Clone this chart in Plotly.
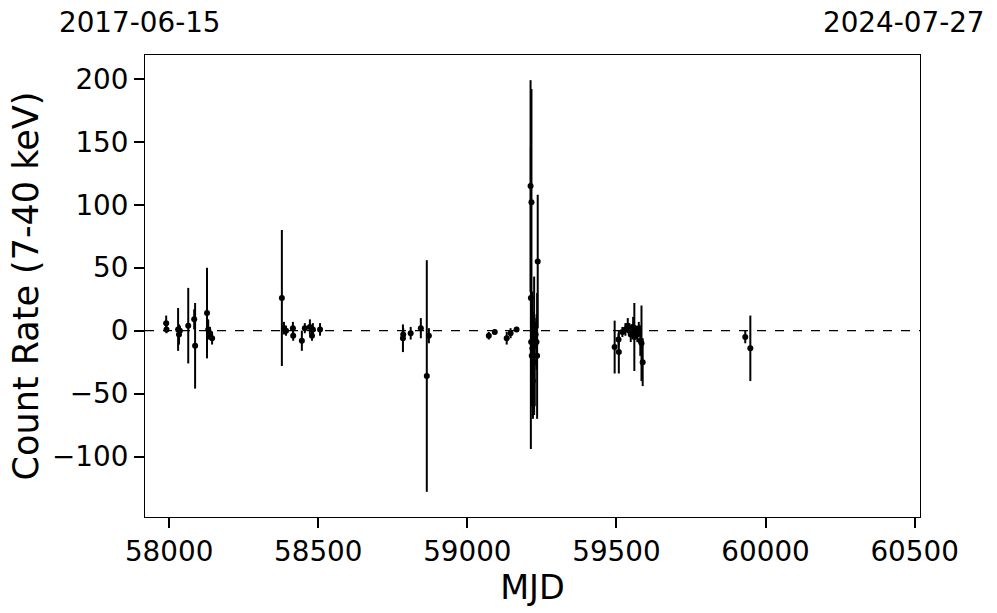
import plotly.graph_objects as go

# MJD, count rate (7-40 keV), 1-sigma error
mjd = [57990, 57991, 58030, 58033, 58036, 58064, 58084, 58087, 58127, 58131, 58137, 58144,
       58378, 58385, 58392, 58415, 58416, 58445, 58455, 58472, 58479, 58482, 58506,
       58784, 58785, 58810, 58844, 58864, 58871,
       59072, 59092, 59132, 59145, 59165,
       59212, 59215, 59213, 59214, 59216, 59218, 59220, 59222, 59224, 59226, 59229, 59232, 59234, 59236,
       59494, 59507, 59508, 59520, 59530, 59538, 59543, 59548, 59552, 59556, 59560, 59565, 59570,
       59575, 59580, 59584, 59588,
       59932, 59949]
rate = [6, 1, 1, -3, 0, 4, 9, -12, 14, 1, -2, -6,
        26, 2, 0, 2, -4, -8, 2, 3, -4, 1, 1,
        -6, -3, -2, 2, -36, -4,
        -4, -1, -6, -2, 1,
        115, 102, 26, -9, -20, -14, -40, -5, -12, -25, -3, -9, -20, 55,
        -13, -7, -17, -1, 1, 4, 2, -3, 0, 3, -5, 0, -3,
        2, -8, -10, -25,
        -5, -14]
err = [6, 3, 17, 8, 4, 30, 8, 34, 36, 8, 5, 5,
       54, 5, 4, 5, 4, 8, 4, 6, 4, 5, 5,
       11, 5, 5, 8, 92, 6,
       3, 2, 5, 4, 2,
       84, 90, 120, 30, 40, 45, 30, 20, 55, 35, 10, 22, 50, 53,
       21, 5, 17, 4, 5, 6, 4, 6, 5, 8, 27, 4, 6,
       5, 12, 30, 19,
       5, 26]

x_range = [57919, 60518]
y_range = [-148, 219]
x_ticks = [58000, 58500, 59000, 59500, 60000, 60500]
x_tick_text = ["58000", "58500", "59000", "59500", "60000", "60500"]
y_ticks = [-100, -50, 0, 50, 100, 150, 200]
y_tick_text = ["\u2212100", "\u221250", "0", "50", "100", "150", "200"]
start_label = "2017-06-15"
end_label = "2024-07-27"

FONT = "DejaVu Sans"

fig = go.Figure()
fig.add_trace(go.Scatter(
    x=mjd, y=rate, mode="markers",
    marker=dict(color="black", size=6),
    error_y=dict(type="data", array=err, visible=True, color="black", thickness=2, width=0),
    showlegend=False,
))
fig.add_shape(type="line", xref="paper", x0=0, x1=1, yref="y", y0=0, y1=0,
              line=dict(color="black", width=1.3, dash="dash"))

fig.update_xaxes(range=x_range, tickvals=x_ticks, ticktext=x_tick_text, ticks="outside", ticklen=10, tickwidth=2,
                 tickcolor="black", showline=True, linecolor="black", linewidth=1, mirror=True,
                 showgrid=False, zeroline=False, automargin=False,
                 tickfont=dict(size=27.8, color="black", family=FONT),
                 title=dict(text="MJD", font=dict(size=33.5, color="black", family=FONT), standoff=4))
fig.update_yaxes(range=y_range, tickvals=y_ticks, ticktext=y_tick_text, ticks="outside", ticklen=10, tickwidth=2,
                 tickcolor="black", showline=True, linecolor="black", linewidth=1, mirror=True,
                 showgrid=False, zeroline=False, automargin=False,
                 tickfont=dict(size=27.8, color="black", family=FONT),
                 title=dict(text="Count Rate (7-40 keV)", font=dict(size=35, color="black", family=FONT), standoff=2))

fig.add_annotation(text=start_label, xref="paper", yref="paper", x=-0.1135, y=1.071,
                   xanchor="left", yanchor="middle", showarrow=False,
                   font=dict(size=27.8, color="black", family=FONT))
fig.add_annotation(text=end_label, xref="paper", yref="paper", x=1.0865, y=1.071,
                   xanchor="right", yanchor="middle", showarrow=False,
                   font=dict(size=27.8, color="black", family=FONT))

fig.update_layout(width=997, height=613, plot_bgcolor="white", paper_bgcolor="white",
                  margin=dict(l=145, r=77, t=55, b=96), font=dict(family=FONT, color="black"))

# remove the default 8px body margin so the figure fills the window exactly
fig.write_html("out.html", config={"displayModeBar": False},
               post_script="document.body.style.margin='0';")
